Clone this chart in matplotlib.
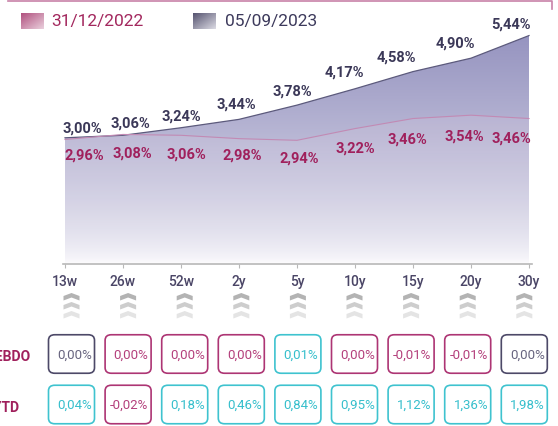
import numpy as np
import matplotlib
matplotlib.use("Agg")
import matplotlib.pyplot as plt
from matplotlib.patches import FancyBboxPatch, Polygon
from matplotlib.lines import Line2D

plt.rcParams['font.family'] = ['Roboto', 'DejaVu Sans']

# ---------------- data ----------------
tenors = ['13w', '26w', '52w', '2y', '5y', '10y', '15y', '20y', '30y']
yield_2022 = [2.96, 3.08, 3.06, 2.98, 2.94, 3.22, 3.46, 3.54, 3.46]
yield_2023 = [3.00, 3.06, 3.24, 3.44, 3.78, 4.17, 4.58, 4.90, 5.44]
hebdo = [0.00, 0.00, 0.00, 0.00, 0.01, 0.00, -0.01, -0.01, 0.00]
ytd = [0.04, -0.02, 0.18, 0.46, 0.84, 0.95, 1.12, 1.36, 1.98]
hebdo_style = ['d', 'p', 'p', 'p', 'c', 'p', 'p', 'p', 'd']
ytd_style = ['c', 'p', 'c', 'c', 'c', 'c', 'c', 'c', 'c']
date_2022 = '31/12/2022'
date_2023 = '05/09/2023'

# label offsets in pixels (dx, dy)
off_2023 = [(17, 9), (7, 12), (0, 11), (-3, 15), (-5, 14), (-11, 16), (-17, 14), (-16, 15), (-18, 11)]
off_2022 = [(19, -16), (9, -19), (5, -19), (3, -17), (2, -18), (0, -20), (-6, -21), (-7, -21), (-18, -20)]

DARK = '#3b3858'
PINK = '#a0205c'
box_colors = {'d': ('#4d4968', '#67647f'),
              'p': ('#ad3574', '#b4407c'),
              'c': ('#3fc3cf', '#36bfcc')}

W, H = 558, 426
fig = plt.figure(figsize=(W / 100, H / 100), dpi=100)


def fmt(v):
    return ('%.2f%%' % v).replace('.', ',')


def gradient_fill(ax, x, y, c_top, c_bot, gamma=1.0, alpha_top=1.0, alpha_bot=1.0, zorder=1):
    poly = ax.fill_between(x, 0, y, facecolor='none', edgecolor='none')
    ymax = max(y)
    t = np.linspace(0, 1, 256)[:, None] ** gamma
    c_top = np.array(matplotlib.colors.to_rgb(c_top))
    c_bot = np.array(matplotlib.colors.to_rgb(c_bot))
    rgb = c_bot * (1 - t) + c_top * t
    a = alpha_bot * (1 - t) + alpha_top * t
    img = np.concatenate([rgb, a], axis=1)[:, None, :]
    im = ax.imshow(img, extent=[x[0], x[-1], 0, ymax], origin='lower',
                   aspect='auto', zorder=zorder)
    im.set_clip_path(poly.get_paths()[0], transform=ax.transData)


# ---------------- main chart ----------------
ax = fig.add_axes([63 / W, (H - 263.5) / H, 469 / W, 251.4 / H])
x = np.arange(len(tenors))
gradient_fill(ax, x, yield_2023, '#9694c0', '#fcfbfd', gamma=0.7, zorder=1)
gradient_fill(ax, x, yield_2022, '#e6cfe2', '#ffffff', alpha_top=0.18, alpha_bot=0.0, zorder=2)
ax.plot(x, yield_2023, color='#5c5a7c', lw=0.9, zorder=3)
ax.plot(x, yield_2022, color='#c28ab4', lw=0.8, zorder=3)

for i, v in enumerate(yield_2023):
    ax.annotate(fmt(v), (x[i], v), xytext=off_2023[i], textcoords='offset pixels',
                ha='center', va='center', fontsize=10.5, fontweight='bold', color=DARK)
for i, v in enumerate(yield_2022):
    ax.annotate(fmt(v), (x[i], v), xytext=off_2022[i], textcoords='offset pixels',
                ha='center', va='center', fontsize=10.5, fontweight='bold', color=PINK)

ax.set_xlim(-2 / 58, 8 + 3 / 58)
ax.set_ylim(0, 6)
for s in ['top', 'right', 'left']:
    ax.spines[s].set_visible(False)
ax.spines['bottom'].set_color('#b8b8b8')
ax.spines['bottom'].set_linewidth(1.2)
ax.set_yticks([])
ax.set_xticks(x)
ax.set_xticklabels(tenors)
ax.tick_params(axis='x', direction='out', length=3, color='#b8b8b8', pad=5,
               labelsize=10, labelcolor='#4a4566')
for lab in ax.get_xticklabels():
    lab.set_fontweight('medium')
ax.patch.set_alpha(0)

# ---------------- bottom table ----------------
ax2 = fig.add_axes([0, 0, 1, 1])
ax2.set_xlim(-71.5 / 56.6, (W - 71.5) / 56.6)
ax2.set_ylim((H - 354) / 50.5, -354 / 50.5)
ax2.axis('off')
ax2.patch.set_alpha(0)

bw, bh = 46 / 56.6, 38.5 / 50.5
sx, sy = 1 / 56.6, 1 / 50.5
chev = np.array([(-8, 3), (0, 0), (8, 3), (8, 7.5), (0, 4.5), (-8, 7.5)], dtype=float)
chev_colors = ['#b3b3b3', '#cdcdcd', '#e4e4e4']
chev_top = (293 - 354) / 50.5

for row, (vals, styles) in enumerate([(hebdo, hebdo_style), (ytd, ytd_style)]):
    for i, (v, st) in enumerate(zip(vals, styles)):
        ec, tc = box_colors[st]
        ax2.add_patch(FancyBboxPatch((i - bw / 2, row - bh / 2), bw, bh,
                                     boxstyle='round,pad=0,rounding_size=0.11',
                                     fc='white', ec=ec, lw=1.2))
        ax2.text(i + bw / 2 - 2.5 * sx, row + 0.02, fmt(v), ha='right', va='center',
                 fontsize=9.5, color=tc)

for i in range(len(tenors)):
    for k, c in enumerate(chev_colors):
        pts = np.column_stack([i + chev[:, 0] * sx, chev_top + (chev[:, 1] + 9 * k) * sy])
        ax2.add_patch(Polygon(pts, closed=True, fc=c, ec='none'))

ax2.text((8 - 71.5) / 56.6, 0 + 3 * sy, 'HEBDO', ha='center', va='center',
         fontsize=10, fontweight='bold', color=PINK)
ax2.text((6 - 71.5) / 56.6, 1 + 3 * sy, 'YTD', ha='center', va='center',
         fontsize=10, fontweight='bold', color=PINK)

# ---------------- legend + frame ----------------
def grad_square(x0, y0, w, h, c1, c2):
    a = fig.add_axes([x0 / W, 1 - (y0 + h) / H, w / W, h / H])
    g = np.linspace(0, 1, 64)
    t = (g[None, :] + g[:, None]) / 2
    c1 = np.array(matplotlib.colors.to_rgb(c1))
    c2 = np.array(matplotlib.colors.to_rgb(c2))
    img = c1 * (1 - t[..., None]) + c2 * t[..., None]
    a.imshow(img, aspect='auto', interpolation='bilinear')
    a.axis('off')


grad_square(21, 13, 23, 16, '#b0507e', '#ead0dd')
grad_square(193, 13, 23, 16, '#55536f', '#dcdbe4')
fig.text(51 / W, 1 - 21.5 / H, date_2022, ha='left', va='center', fontsize=12.5, color='#a3285e')
fig.text(225 / W, 1 - 21.5 / H, date_2023, ha='left', va='center', fontsize=12.5, color='#3d3a5c')

fig.add_artist(Line2D([8 / W, 552 / W, 552 / W], [1 - 0.8 / H, 1 - 0.8 / H, 1 - 9 / H],
                      color='#c882a8', lw=1.2, transform=fig.transFigure))

fig.savefig('out.png', dpi=100)
